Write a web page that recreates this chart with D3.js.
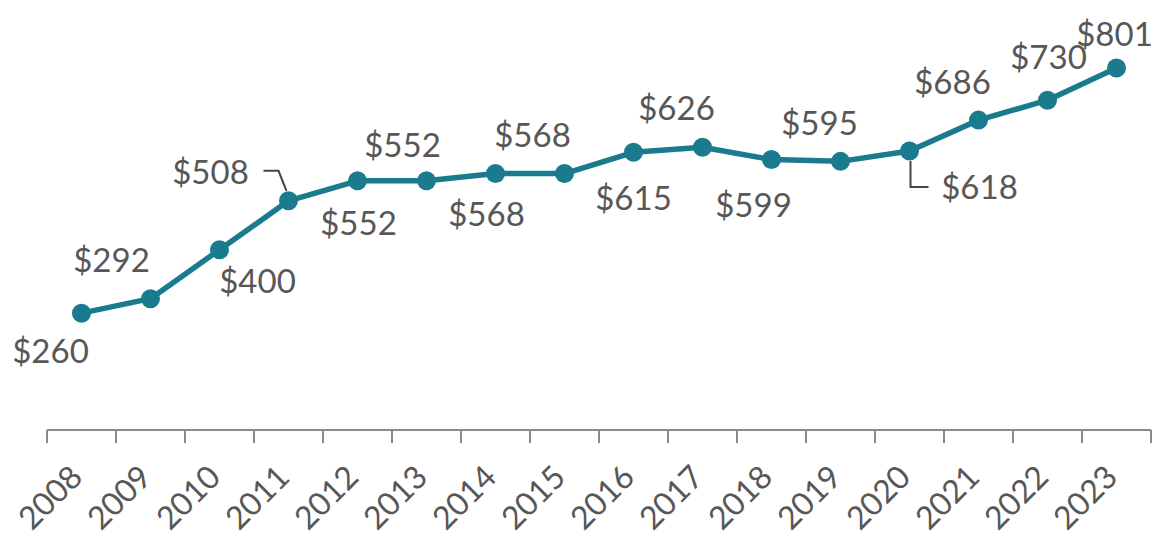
<!DOCTYPE html>
<html>
<head>
<meta charset="utf-8">
<script src="https://cdn.jsdelivr.net/npm/d3@7"></script>
<style>
    body { margin: 0; background: #fff; }
    svg { display: block; }
    .value-label { font-family: Lato, "Open Sans", sans-serif; font-size: 33px; fill: #575757; }
    .tick text { font-family: Lato, "Open Sans", sans-serif; font-size: 32px; fill: #575757; }
</style>
</head>
<body>
<svg id="chart"></svg>
<script>
const years = ["2008", "2009", "2010", "2011", "2012", "2013", "2014", "2015",
    "2016", "2017", "2018", "2019", "2020", "2021", "2022", "2023"];
const values = [260, 292, 400, 508, 552, 552, 568, 568, 615, 626, 599, 595, 618, 686, 730, 801];

// where each value label sits relative to its point (baseline, text centred)
const labelOffsets = [
    [-31, 50], [-39, -27], [38, 43], [-78, -17], [1, 54], [-24, -24], [-9, 52], [-32, -27],
    [0, 58], [-26, -27], [-18, 57], [-21, -26], [70, 48], [-26, -26], [1, -31], [-2, -22]
];
// little leader lines for the two labels pushed away from their points
const leaders = {
    "2011": [[-25, -30], [-10, -30], [-2, -10]],
    "2020": [[1, 10], [1, 36], [19, 36]]
};

const width = 1158;
const height = 539;
const lineColor = "#1b7b8e";

const svg = d3.select("#chart")
    .attr("width", width)
    .attr("height", height);

const x = d3.scaleBand()
    .domain(years)
    .range([47, 1151]);

const y = d3.scaleLinear()
    .domain([0, 801])
    .range([431, 68]);

const axisY = 430;
const data = years.map((yr, i) => ({year: yr, value: values[i], off: labelOffsets[i]}));

// axis: baseline plus ticks on the band edges
const edges = years.map(d => x(d)).concat([x.range()[1]]);
svg.append("line")
    .attr("x1", x.range()[0])
    .attr("x2", x.range()[1])
    .attr("y1", axisY)
    .attr("y2", axisY)
    .attr("stroke", "#8a8a8a")
    .attr("stroke-width", 2);

svg.append("g")
    .selectAll("line")
    .data(edges)
    .enter().append("line")
    .attr("x1", d => d)
    .attr("x2", d => d)
    .attr("y1", axisY)
    .attr("y2", axisY + 13)
    .attr("stroke", "#8a8a8a")
    .attr("stroke-width", 2);

const xAxis = svg.append("g")
    .attr("transform", `translate(0,${axisY})`)
    .call(d3.axisBottom(x).tickSize(0));
xAxis.select(".domain").remove();
xAxis.selectAll(".tick text")
    .attr("text-anchor", "end")
    .attr("x", 0)
    .attr("y", 0)
    .attr("dy", 0)
    .attr("transform", "translate(3,49) rotate(-45)");

// line + points
const line = d3.line()
    .x(d => x(d.year) + x.bandwidth() / 2)
    .y(d => y(d.value));

svg.append("path")
    .datum(data)
    .attr("d", line)
    .attr("fill", "none")
    .attr("stroke", lineColor)
    .attr("stroke-width", 5.5)
    .attr("stroke-linejoin", "round");

svg.append("g")
    .selectAll("circle")
    .data(data)
    .enter().append("circle")
    .attr("cx", d => x(d.year) + x.bandwidth() / 2)
    .attr("cy", d => y(d.value))
    .attr("r", 9.5)
    .attr("fill", lineColor);

// leader lines
svg.append("g")
    .selectAll("path")
    .data(data.filter(d => leaders[d.year]))
    .enter().append("path")
    .attr("d", d => {
        const cx = x(d.year) + x.bandwidth() / 2;
        const cy = y(d.value);
        return d3.line()(leaders[d.year].map(p => [cx + p[0], cy + p[1]]));
    })
    .attr("fill", "none")
    .attr("stroke", "#444")
    .attr("stroke-width", 2);

// value labels
svg.append("g")
    .selectAll("text")
    .data(data)
    .enter().append("text")
    .attr("class", "value-label")
    .attr("text-anchor", "middle")
    .attr("x", d => x(d.year) + x.bandwidth() / 2 + d.off[0])
    .attr("y", d => y(d.value) + d.off[1])
    .text(d => "$" + d.value);
</script>
</body>
</html>
